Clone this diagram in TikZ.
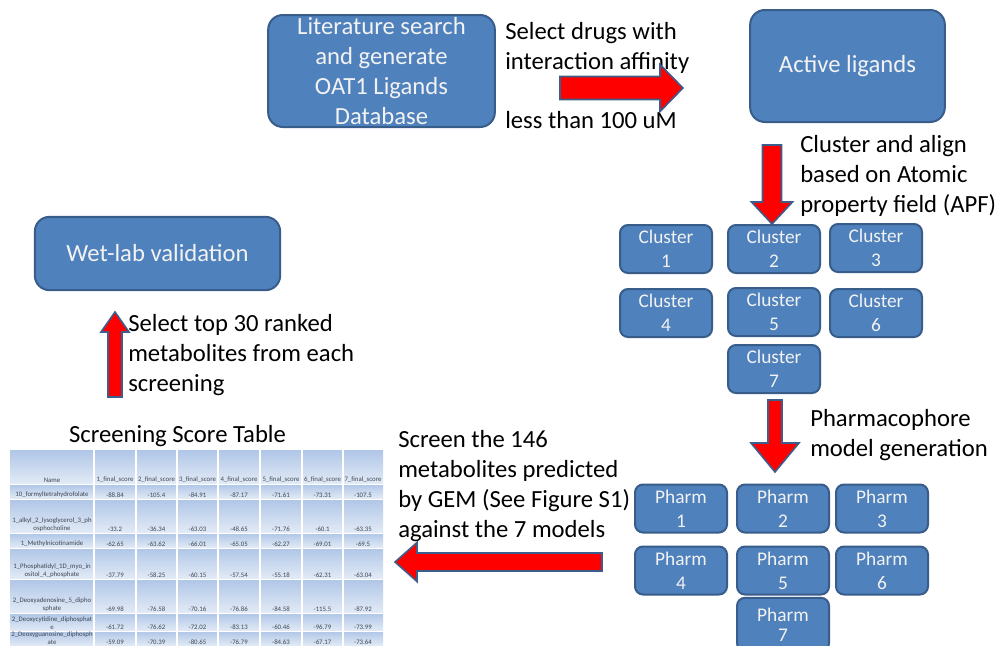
\documentclass[tikz,border=0pt]{standalone}
\usepackage{fontspec}
\setmainfont{Carlito}
\definecolor{boxfill}{HTML}{4F81BD}
\definecolor{boxedge}{HTML}{385D8A}
\definecolor{arrowedge}{HTML}{3B5E8C}
\definecolor{cellTop}{HTML}{AFC6E7}
\definecolor{cellBot}{HTML}{E3EBF6}
\definecolor{celltext}{HTML}{3E4752}
\tikzset{
  pics/blockarrow/.style args={#1/#2/#3/#4}{code={
    \filldraw[fill=red, draw=arrowedge, line width=1.2pt, line join=miter]
      (0,-#2) -- (#1-#4,-#2) -- (#1-#4,-#3) -- (#1,0) -- (#1-#4,#3) -- (#1-#4,#2) -- (0,#2) -- cycle;
  }}
}
\begin{document}
\begin{tikzpicture}[x=0.75pt,y=-0.75pt,
  stage/.style={draw=boxedge, fill=boxfill, line width=1.5pt, rounded corners=11pt,
    text=white!95!black, align=center, inner sep=0pt, font=\fontsize{18.5}{22.5}\selectfont},
  smallbox/.style={stage, rounded corners=6pt, minimum width=69pt, minimum height=36pt,
    font=\fontsize{14.5}{18}\selectfont},
  note/.style={align=left, anchor=west, inner sep=0pt, font=\fontsize{18.5}{22.5}\selectfont},
  cell/.style={inner sep=0pt, anchor=south, align=center, text=celltext,
    font=\fontsize{5.1}{6.2}\selectfont}
]
\useasboundingbox (0,0) rectangle (1000,646);
\fill[white] (0,0) rectangle (1000,646);

% main stages
\node[stage, minimum width=170pt, minimum height=84pt] (lit) at (381.5,71)
  {Literature search\\and generate\\OAT1 Ligands\\Database};
\node[stage, minimum width=146pt, minimum height=84pt] (active) at (847.5,66) {Active ligands};
\node[stage, minimum width=184pt, minimum height=55pt] (wet) at (157.5,253.5) {Wet-lab validation};

% clusters
\node[smallbox] (c1) at (666,249) {Cluster\\1};
\node[smallbox] (c2) at (774,249) {Cluster\\2};
\node[smallbox] (c3) at (876,248) {Cluster\\3};
\node[smallbox] (c4) at (666,313) {Cluster\\4};
\node[smallbox] (c5) at (774,312) {Cluster\\5};
\node[smallbox] (c6) at (876,313) {Cluster\\6};
\node[smallbox] (c7) at (774,369) {Cluster\\7};

% pharmacophore models
\node[smallbox] (p1) at (681,508.5) {Pharm\\1};
\node[smallbox] (p2) at (783,508.5) {Pharm\\2};
\node[smallbox] (p3) at (882,508.5) {Pharm\\3};
\node[smallbox] (p4) at (681,570.5) {Pharm\\4};
\node[smallbox] (p5) at (783,570.5) {Pharm\\5};
\node[smallbox] (p6) at (882,570.5) {Pharm\\6};
\node[smallbox, minimum height=40pt] (p7) at (783,624.5) {Pharm\\[-3pt]7};

% step descriptions
\node[note] (t1) at (505,47.5) {Select drugs with\\interaction affinity};
\node[note] (t1b) at (505,120) {less than 100 uM};
\node[note] (t2) at (800,176) {Cluster and align\\based on Atomic\\property field (APF)};
\node[note] (t3) at (810,435) {Pharmacophore\\model generation};
\node[note] (t4) at (398,486) {Screen the 146\\metabolites predicted\\by GEM (See Figure S1)\\against the 7 models};
\node[note] (t5) at (128,355) {Select top 30 ranked\\metabolites from each\\screening};
\node[inner sep=0pt, font=\fontsize{18.5}{22.5}\selectfont] (ttl) at (177.5,436) {Screening Score Table};

% block arrows
\pic (a1) at (560,88) {blockarrow=123/11.5/23.5/23};
\pic[rotate=-90] (a2) at (772,145) {blockarrow=79/9.5/20.5/22};
\pic[rotate=-90] (a3) at (775,400) {blockarrow=72/7/24/29};
\pic[rotate=180] (a4) at (602,562) {blockarrow=207/9/19.5/22};
\pic[rotate=90] (a5) at (115,397) {blockarrow=85/7/14/20};

% score table: cell backgrounds
\foreach \ya/\yb in {450/484,484/499,499/533,533/548,548/579,579/613,613/631,631/646}
  \foreach \xa/\xb in {10/94,94/136,136/177,177/218,218/260,260/302,302/343,343/383}
    \shade[top color=cellTop, bottom color=cellBot] (\xa,\ya) rectangle (\xb,\yb);
\foreach \x in {94,136,177,218,260,302,343}
  \draw[white, line width=0.9pt] (\x,450) -- (\x,646);
\foreach \y in {484,499,533,548,579,613,631}
  \draw[white, line width=0.5pt] (10,\y) -- (383,\y);

% header row
\node[cell] (hname) at (52,483) {Name};
\foreach \c in {1,...,7}{
  \pgfmathsetmacro{\cx}{{115,156.5,197.5,239,281,322.5,363}[\c-1]}
  \node[cell] (h\c) at (\cx,483) {\c\_final\_score};
}

% data rows
\foreach \yb/\nm/\vals [count=\r] in {
  498/{10\_formyltetrahydrofolate}/{-88.84,-105.4,-84.91,-87.17,-71.61,-73.31,-107.5},
  532/{1\_alkyl\_2\_lysoglycerol\_3\_ph\\osphocholine}/{-33.2,-36.34,-63.03,-48.65,-71.76,-60.1,-63.35},
  547/{1\_Methylnicotinamide}/{-62.65,-63.62,-66.01,-65.05,-62.27,-69.01,-69.5},
  578/{1\_Phosphatidyl\_1D\_myo\_in\\ositol\_4\_phosphate}/{-37.79,-58.25,-60.15,-57.54,-55.18,-62.31,-63.04},
  612/{2\_Deoxyadenosine\_5\_dipho\\sphate}/{-69.98,-76.58,-70.16,-76.86,-84.58,-115.5,-87.92},
  630/{2\_Deoxycytidine\_diphosphat\\e}/{-61.72,-76.62,-72.02,-83.13,-60.46,-96.79,-73.99},
  645/{2\_Deoxyguanosine\_diphosph\\ate}/{-59.09,-70.39,-80.65,-76.79,-84.63,-67.17,-73.64}}{
  \node[cell] (n\r) at (52,\yb) {\nm};
  \foreach \v [count=\c] in \vals {
    \pgfmathsetmacro{\cx}{{115,156.5,197.5,239,281,322.5,363}[\c-1]}
    \node[cell] (v\r-\c) at (\cx,\yb) {\v};
  }
}
\end{tikzpicture}
\end{document}
